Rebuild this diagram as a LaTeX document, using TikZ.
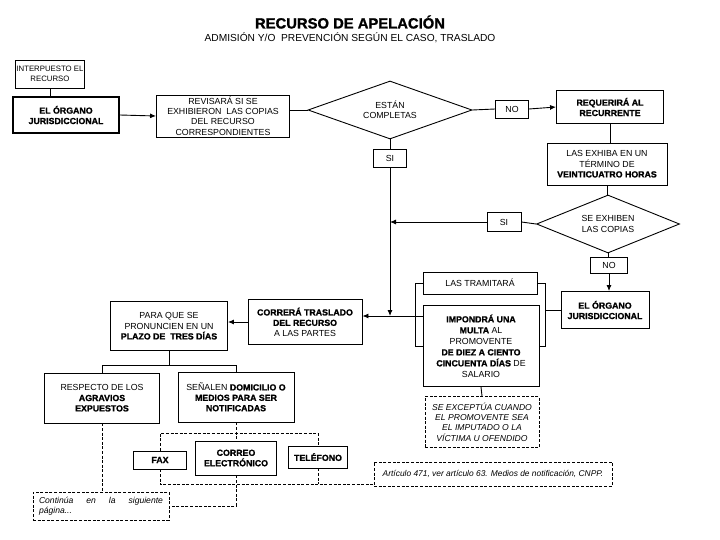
\documentclass[tikz,border=0pt]{standalone}
\usepackage{fontspec}
\setmainfont{Liberation Sans}[BoldFeatures={FakeBold=1.3}]
\usepackage{tikz}
\usetikzlibrary{arrows.meta,positioning,shapes.geometric,calc}
\tikzset{
  fl/box/.style={draw, line width=0.9pt, inner sep=1pt, align=center, font=\fontsize{8.8}{10.4}\selectfont},
  fl/heavybox/.style={fl/box, line width=1.4pt},
  fl/decision/.style={draw, diamond, line width=0.9pt, inner sep=0pt, align=center, font=\fontsize{8.8}{10.4}\selectfont},
  fl/tag/.style={fl/box, minimum width=33pt, minimum height=18pt},
  fl/note/.style={fl/box, dash pattern=on 3pt off 1.6pt, font=\fontsize{8.6}{10.4}\selectfont\itshape},
  fl/line/.style={line width=0.9pt},
  fl/arrow/.style={fl/line, -{Latex[length=6pt,width=5pt]}},
  fl/dline/.style={line width=0.9pt, dash pattern=on 3pt off 1.6pt}
}
\newcommand{\hv}[1]{\textbf{#1}}

\begin{document}
\begin{tikzpicture}[x=1pt, y=-1pt]
  \useasboundingbox (0,0) rectangle (720,540);

  % encabezado
  \node[font=\fontsize{14.8}{17}\selectfont\bfseries] (title) at (350,22) {RECURSO DE APELACIÓN};
  \node[font=\fontsize{10.2}{12}\selectfont] (subtitle) at (350,38) {ADMISIÓN Y/O\ \ PREVENCIÓN SEGÚN EL CASO, TRASLADO};

  % fila superior
  \node[fl/box, minimum width=56pt, minimum height=28pt, font=\fontsize{7.8}{9.4}\selectfont] (interp) at (50,74) {INTERPUESTO EL\\RECURSO};
  \node[fl/heavybox, minimum width=106pt, minimum height=36pt] (org1) at (66,115) {\hv{EL ÓRGANO}\\\hv{JURISDICCIONAL}};
  \node[fl/box, minimum width=133pt, minimum height=42pt] (rev) at (223,116) {REVISARÁ SI SE\\EXHIBIERON\ \ LAS COPIAS\\DEL RECURSO\\CORRESPONDIENTES};
  \node[fl/decision, aspect=2.8, minimum width=164pt, minimum height=58pt] (comp) at (390,110) {ESTÁN\\COMPLETAS};
  \node[fl/tag] (no1) at (512,109) {NO};
  \node[fl/box, minimum width=107pt, minimum height=33pt] (req) at (610,107) {\hv{REQUERIRÁ AL}\\\hv{RECURRENTE}};
  \draw[fl/line] (interp.south) -- (interp.south |- org1.north);
  \draw[fl/arrow] (org1.east) -- (rev.west);
  \draw[fl/line] (comp.west) -- (comp.west -| rev.east);
  \draw[fl/line] (comp.east) -- (no1.west);
  \draw[fl/arrow] (no1.east) -- (req.west);

  % columna derecha
  \node[fl/box, minimum width=120pt, minimum height=42pt] (exh) at (607,164) {LAS EXHIBA EN UN\\TÉRMINO DE\\\hv{VEINTICUATRO HORAS}};
  \node[fl/decision, aspect=2.5, minimum width=143pt, minimum height=58pt] (copias) at (608,224) {SE EXHIBEN\\LAS COPIAS};
  \node[fl/tag, minimum width=37pt, minimum height=16pt] (no2) at (609,265) {NO};
  \node[fl/box, minimum width=88pt, minimum height=37pt] (org2) at (605,310) {\hv{EL ÓRGANO}\\\hv{JURISDICCIONAL}};
  \node[fl/tag, minimum width=34pt, minimum height=19pt] (si2) at (504,222) {SI};
  \draw[fl/line] (req.south) -- (req.south |- exh.north);
  \draw[fl/line] (exh.south) -- (exh.south |- copias.north);
  \draw[fl/line] (copias.south) -- (copias.south |- no2.north);
  \draw[fl/arrow] (no2.south) -- (no2.south |- org2.north);
  \draw[fl/line] (copias.west) -- (si2.east);

  % tronco central
  \node[fl/tag] (si1) at (390,158) {SI};
  \coordinate (jn) at (390,316);
  \draw[fl/line] (comp.south) -- (si1.north);
  \draw[fl/arrow] (si1.south) -- (jn);
  \draw[fl/arrow] (si2.west) -- (si2.west -| si1.south);

  % multa
  \node[fl/box, minimum width=114pt, minimum height=22pt] (tram) at (480,283) {LAS TRAMITARÁ};
  \node[fl/box, minimum width=116pt, minimum height=81pt, font=\fontsize{8.8}{11}\selectfont] (multa) at (481,346) {\hv{IMPONDRÁ UNA}\\\hv{MULTA} AL\\PROMOVENTE\\\hv{DE DIEZ A CIENTO}\\\hv{CINCUENTA DÍAS} DE\\SALARIO};
  \node[fl/note, minimum width=114pt, minimum height=51pt] (excep) at (482,422) {SE EXCEPTÚA CUANDO\\EL PROMOVENTE SEA\\EL IMPUTADO O LA\\VÍCTIMA U OFENDIDO};
  \draw[fl/line] (tram.west) -- ++(-7,0) |- (multa.west);
  \draw[fl/line] (tram.east) -- ++(8,0) coordinate (br) |- (multa.east);
  \draw[fl/line] (org2.west) -- (org2.west -| br);
  \draw[fl/line] (multa.south) -- (excep.north);

  % traslado
  \node[fl/box, minimum width=114pt, minimum height=45pt] (corr) at (305,322) {\hv{CORRERÁ TRASLADO}\\\hv{DEL RECURSO}\\A LAS PARTES};
  \node[fl/box, minimum width=117pt, minimum height=49pt] (plazo) at (169,326) {PARA QUE SE\\PRONUNCIEN EN UN\\\hv{PLAZO DE\ \ TRES DÍAS}};
  \draw[fl/arrow] (multa.west |- jn) -- (corr.east |- jn);
  \draw[fl/arrow] (corr.west) -- (corr.west -| plazo.east);

  \node[fl/box, minimum width=115pt, minimum height=50pt] (resp) at (102,398) {RESPECTO DE LOS\\\hv{AGRAVIOS}\\\hv{EXPUESTOS}};
  \node[fl/box, minimum width=116pt, minimum height=50pt] (senal) at (236,397) {SEÑALEN \hv{DOMICILIO O}\\\hv{MEDIOS PARA SER}\\\hv{NOTIFICADAS}};
  \draw[fl/line] (plazo.south) -- ++(0,14) coordinate (pt);
  \draw[fl/line] (resp.north) |- (pt) -| (senal.north);

  % medios de notificación
  \node[fl/box, minimum width=53pt, minimum height=18pt] (fax) at (160,460) {\hv{FAX}};
  \node[fl/box, minimum width=81pt, minimum height=34pt] (correo) at (236,458) {\hv{CORREO}\\\hv{ELECTRÓNICO}};
  \node[fl/box, minimum width=59pt, minimum height=22pt] (tel) at (318,457) {\hv{TELÉFONO}};
  \node[fl/note, minimum width=238pt, minimum height=24pt, font=\fontsize{8.4}{10}\selectfont\itshape] (art) at (493,474) {Artículo 471, ver artículo 63. Medios de notificación, CNPP.};
  \node[fl/note, minimum width=136pt, minimum height=28pt, align=left] (cont) at (101,506) {\makebox[124pt][s]{Continúa en la siguiente}\\página...};
  \draw[fl/dline] (senal.south) -- (correo.north);
  \draw[fl/dline] (fax.north) |- ($(senal.south)+(0,11)$) -| (tel.north);
  \draw[fl/dline] (fax.south) -- ++(0,15) coordinate (bj) -- (bj -| art.west);
  \draw[fl/dline] (tel.south) -- (tel.south |- bj);
  \draw[fl/dline] (correo.south) |- (cont.east);
  \draw[fl/dline] (resp.south) -- (resp.south |- cont.north);
\end{tikzpicture}
\end{document}
